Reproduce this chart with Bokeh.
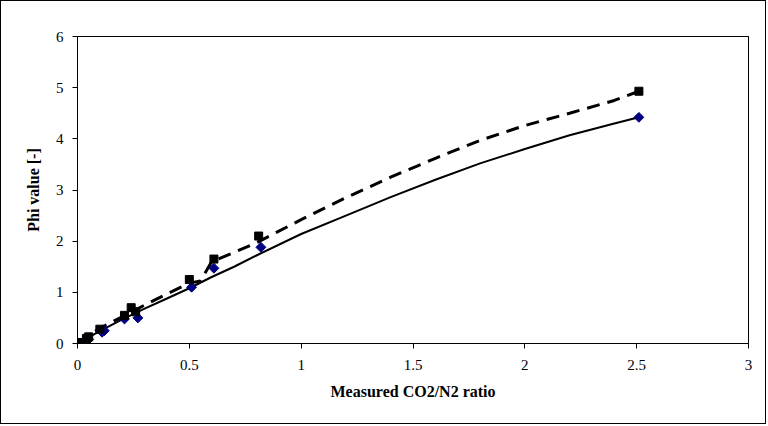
from bokeh.plotting import figure
from bokeh.models import Range1d, FixedTicker, LinearAxis
from bokeh.embed import file_html
from bokeh.resources import INLINE

# Measured data points
diamond_x = [0.01, 0.05, 0.11, 0.12, 0.21, 0.27, 0.51, 0.61, 0.82, 2.51]
diamond_y = [0.0, 0.08, 0.22, 0.25, 0.48, 0.50, 1.10, 1.47, 1.88, 4.42]
square_x = [0.01, 0.04, 0.05, 0.10, 0.21, 0.24, 0.26, 0.50, 0.61, 0.81, 2.51]
square_y = [0.02, 0.10, 0.13, 0.28, 0.55, 0.70, 0.62, 1.25, 1.65, 2.10, 4.93]

# Curves
solid_x = [0, 0.1, 0.2, 0.3, 0.4, 0.5, 0.6, 0.7, 0.8, 1.0, 1.2, 1.4, 1.6, 1.8, 2.0, 2.2, 2.4, 2.51]
solid_y = [0, 0.24, 0.47, 0.68, 0.88, 1.08, 1.30, 1.50, 1.72, 2.14, 2.50, 2.86, 3.20, 3.52, 3.80, 4.07, 4.30, 4.42]
dash_x = [0, 0.1, 0.2, 0.3, 0.4, 0.5, 0.55, 0.6, 0.7, 0.8, 1.0, 1.2, 1.4, 1.6, 1.8, 2.0, 2.2, 2.4, 2.51]
dash_y = [0.02, 0.30, 0.52, 0.75, 0.97, 1.18, 1.22, 1.60, 1.78, 1.97, 2.42, 2.85, 3.25, 3.62, 3.97, 4.26, 4.50, 4.75, 4.93]

x_ticks = [0, 0.5, 1, 1.5, 2, 2.5, 3]
y_ticks = [0, 1, 2, 3, 4, 5, 6]

W, H = 766, 424
p = figure(width=W, height=H, output_backend="svg", toolbar_location=None,
           x_range=Range1d(0, 3), y_range=Range1d(0, 6),
           min_border_left=76, min_border_right=19, min_border_top=35, min_border_bottom=82)
p.styles = {"border": "1px solid black", "box-sizing": "border-box"}
p.xgrid.visible = False
p.ygrid.visible = False
p.outline_line_color = "black"
p.outline_line_width = 1
p.outline_line_alpha = 1

xax = p.below[0]
yax = p.left[0]

font = "Liberation Serif"
for ax in (xax, yax):
    ax.axis_line_color = "black"
    ax.major_tick_line_color = "black"
    ax.minor_tick_line_color = None
    ax.major_tick_in = 0
    ax.major_tick_out = 5
    ax.major_label_text_font = font
    ax.major_label_text_font_size = "15px"
    ax.major_label_text_color = "black"
    ax.axis_label_text_font = font
    ax.axis_label_text_font_size = "16px"
    ax.axis_label_text_font_style = "bold"
    ax.axis_label_text_color = "black"

xax.ticker = FixedTicker(ticks=x_ticks)
yax.ticker = FixedTicker(ticks=y_ticks)
xax.major_label_overrides = {0: "0", 0.5: "0.5", 1: "1", 1.5: "1.5", 2: "2", 2.5: "2.5", 3: "3"}
xax.axis_label = "Measured CO2/N2 ratio"
yax.axis_label = "Phi value [-]"
xax.major_label_standoff = 11
xax.axis_label_standoff = 10
yax.major_label_standoff = 9
yax.axis_label_standoff = 11

# plain lines for the top and right edge of the plot area
for loc in ("above", "right"):
    a = LinearAxis(ticker=FixedTicker(ticks=[]), major_label_text_font_size="0px",
                   major_tick_line_color=None, minor_tick_line_color=None,
                   axis_line_color="black", axis_label=None)
    p.add_layout(a, loc)

p.line(solid_x, solid_y, line_color="black", line_width=2)
p.line(dash_x, dash_y, line_color="black", line_width=3, line_dash="13 8")
p.scatter(diamond_x, diamond_y, marker="square", angle=0.785398, size=7,
          fill_color="#000080", line_color="#000080")
p.scatter(square_x, square_y, marker="square", size=8, fill_color="black", line_color="black")

open("out.html", "w").write(file_html(p, INLINE))
